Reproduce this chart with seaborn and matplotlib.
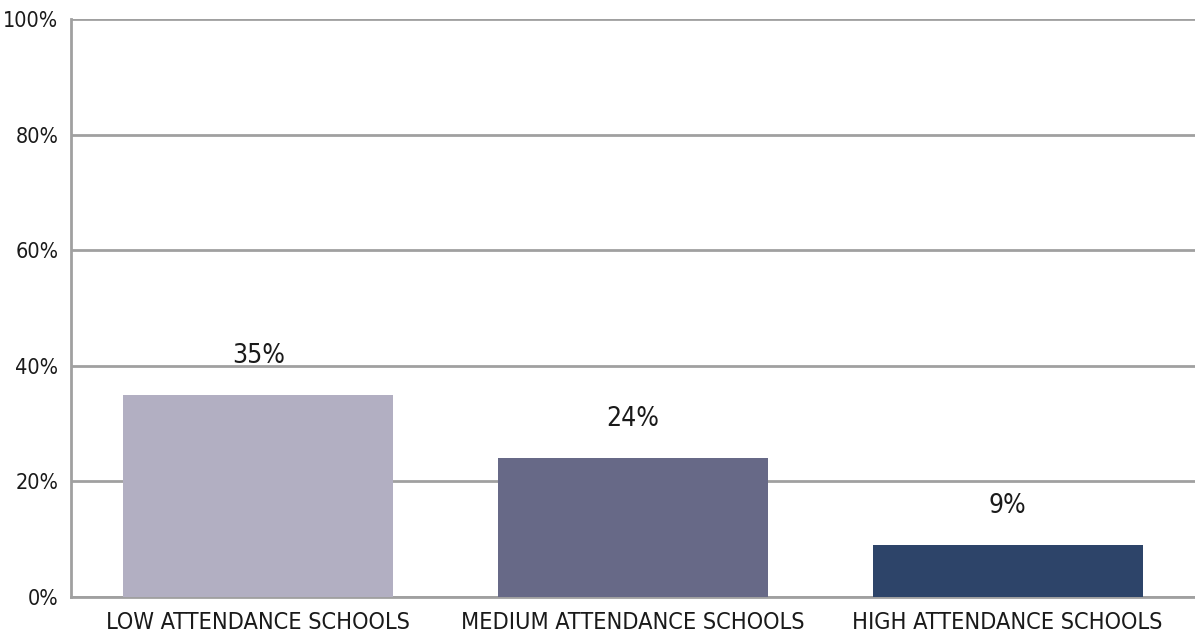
import matplotlib
matplotlib.use("Agg")
import matplotlib.pyplot as plt
import seaborn as sns
import pandas as pd

categories = ["LOW ATTENDANCE SCHOOLS", "MEDIUM ATTENDANCE SCHOOLS", "HIGH ATTENDANCE SCHOOLS"]
values = [35, 24, 9]
bar_colors = ["#b2afc2", "#676987", "#2d4469"]
y_ticks = [0, 20, 40, 60, 80, 100]
y_tick_labels = ["0%", "20%", "40%", "60%", "80%", "100%"]

sns.set_theme(style="white")
plt.rcParams["font.family"] = ["DejaVu Sans"]

df = pd.DataFrame({"category": categories, "value": values})

fig = plt.figure(figsize=(11.95, 6.4), dpi=100)
ax = fig.add_axes([71 / 1195, 1 - 597 / 640, 1 - 71 / 1195, (597 - 19) / 640])

sns.barplot(data=df, x="category", y="value", hue="category", palette=bar_colors,
            width=0.72, legend=False, ax=ax, zorder=3, saturation=1,
            edgecolor="none", linewidth=0)

ax.set_xlim(-0.5, 2.5)
ax.set_ylim(0, 100)
ax.set_yticks(y_ticks)
ax.set_yticklabels(y_tick_labels, fontsize=15.5, color="#1a1a1a", fontstretch="condensed")
ax.set_xlabel("")
ax.set_ylabel("")
ax.yaxis.grid(True, color="#a0a0a0", linewidth=2, zorder=0)
ax.set_axisbelow(True)

for lbl in ax.get_xticklabels():
    lbl.set_fontstretch("condensed")
    lbl.set_fontsize(16.8)
    lbl.set_color("#1a1a1a")
ax.tick_params(axis="x", length=0, pad=10)
ax.tick_params(axis="y", length=0, pad=9)

for side in ["top", "right"]:
    ax.spines[side].set_visible(False)
for side in ["left", "bottom"]:
    ax.spines[side].set_color("#a0a0a0")
    ax.spines[side].set_linewidth(2)

for i, v in enumerate(values):
    ax.annotate(f"{v}%", xy=(i, v), xytext=(0, 28), textcoords="offset points",
                ha="center", va="center", fontsize=19, color="#1a1a1a",
                fontstretch="condensed")

fig.savefig("out.png", dpi=100)
